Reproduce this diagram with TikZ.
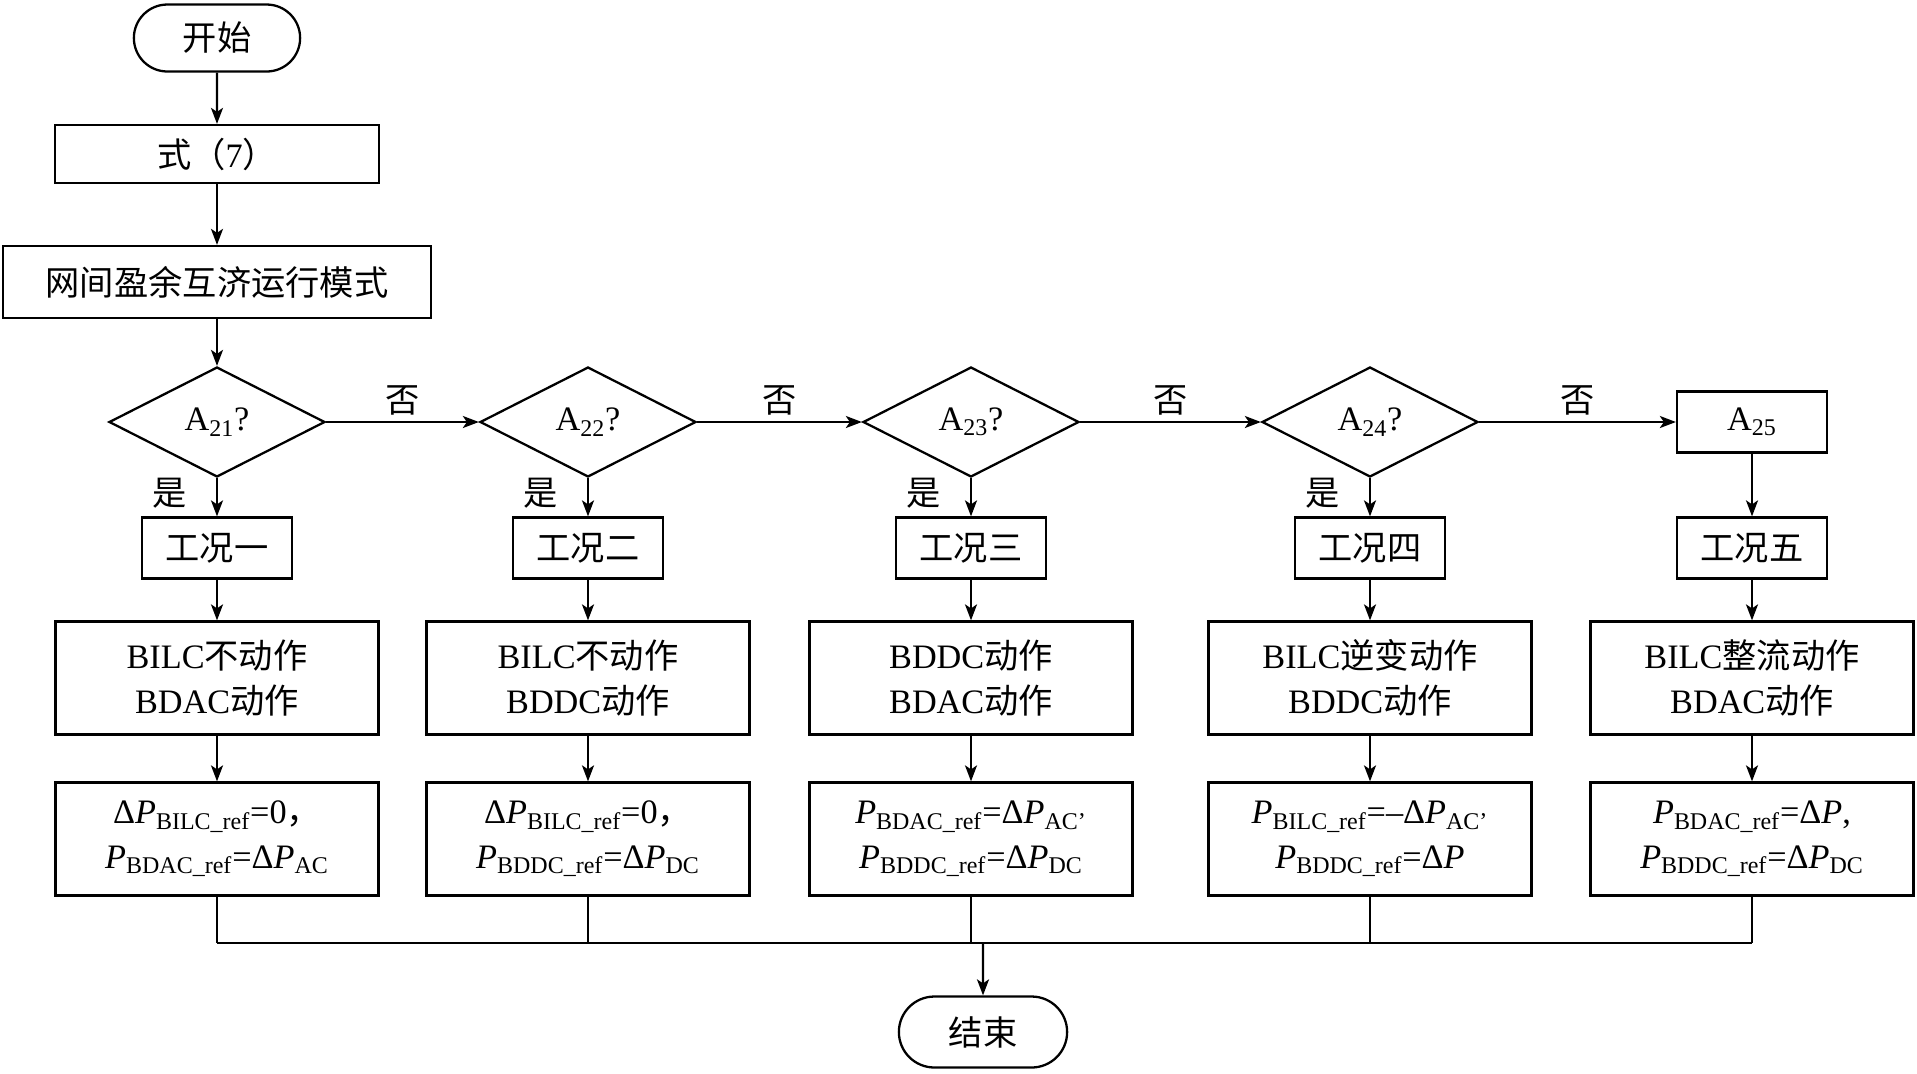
\documentclass[tikz,border=0pt]{standalone}
\usepackage{fontspec}
\setmainfont{Liberation Serif}
\newfontfamily\cjk{Noto Sans CJK SC}
\usetikzlibrary{arrows.meta,shapes.geometric,shapes.misc}
\newcommand{\zh}[1]{{\cjk #1}}
\newcommand{\lo}[1]{\textsubscript{#1}}
\newcommand{\pp}{\textit{P}}
\tikzset{
  every picture/.style={line width=1.3pt},
  box/.style={draw,rectangle,align=center,inner sep=2pt},
  small/.style={box,minimum width=3cm,minimum height=1.22cm},
  wide/.style={box,minimum width=6.46cm,minimum height=2.26cm},
  decide/.style={draw,diamond,inner sep=0pt,minimum width=4.32cm,minimum height=2.2cm},
  term/.style={draw,rounded rectangle,minimum width=3.56cm,minimum height=1.34cm},
  arr/.style={-{Stealth[length=0.32cm,width=0.24cm,inset=0.08cm]}},
}

\begin{document}
\begin{tikzpicture}[x=0.02cm,y=-0.02cm,every node/.style={font=\fontsize{19.5}{25.5}\selectfont}]
  \useasboundingbox (0,0) rectangle (1917,1073);
  \node[term] (start) at (217,38) {\zh{开始}};
  \node[box,minimum width=6.48cm,minimum height=1.16cm] (eq7) at (217,154) {\zh{式（}7\zh{）}};
  \node[box,minimum width=8.56cm,minimum height=1.44cm] (mode) at (217,282) {\zh{网间盈余互济运行模式}};
  \node[decide] (a21) at (217,422) {A\lo{21}?};
  \node[decide] (a22) at (588,422) {A\lo{22}?};
  \node[decide] (a23) at (971,422) {A\lo{23}?};
  \node[decide] (a24) at (1370,422) {A\lo{24}?};
  \node[small] (a25) at (1752,422) {A\lo{25}};
  \foreach \i/\x/\t in {1/217/一,2/588/二,3/971/三,4/1370/四,5/1752/五}
    \node[small] (case\i) at (\x,548) {\zh{工况\t}};
  \node[wide] (act1) at (217,678) {BILC\zh{不动作}\\BDAC\zh{动作}};
  \node[wide] (act2) at (588,678) {BILC\zh{不动作}\\BDDC\zh{动作}};
  \node[wide] (act3) at (971,678) {BDDC\zh{动作}\\BDAC\zh{动作}};
  \node[wide] (act4) at (1370,678) {BILC\zh{逆变动作}\\BDDC\zh{动作}};
  \node[wide] (act5) at (1752,678) {BILC\zh{整流动作}\\BDAC\zh{动作}};
  \node[wide] (ref1) at (217,839) {Δ\pp\lo{BILC\_ref}=0\zh{，}\\\pp\lo{BDAC\_ref}=Δ\pp\lo{AC}};
  \node[wide] (ref2) at (588,839) {Δ\pp\lo{BILC\_ref}=0\zh{，}\\\pp\lo{BDDC\_ref}=Δ\pp\lo{DC}};
  \node[wide] (ref3) at (971,839) {\pp\lo{BDAC\_ref}=Δ\pp\lo{AC’}\\\pp\lo{BDDC\_ref}=Δ\pp\lo{DC}};
  \node[wide] (ref4) at (1370,839) {\pp\lo{BILC\_ref}=–Δ\pp\lo{AC’}\\\pp\lo{BDDC\_ref}=Δ\pp};
  \node[wide] (ref5) at (1752,839) {\pp\lo{BDAC\_ref}=Δ\pp,\\\pp\lo{BDDC\_ref}=Δ\pp\lo{DC}};
  \node[term,minimum width=3.6cm,minimum height=1.42cm] (stop) at (983,1032) {\zh{结束}};
  \coordinate (join) at (983,943);

  \draw[arr] (start) -- (eq7);
  \draw[arr] (eq7) -- (mode);
  \draw[arr] (mode) -- (a21);
  \draw[arr] (a21) -- node[above]{\zh{否}} (a22);
  \draw[arr] (a22) -- node[above]{\zh{否}} (a23);
  \draw[arr] (a23) -- node[above]{\zh{否}} (a24);
  \draw[arr] (a24) -- node[above]{\zh{否}} (a25);
  \foreach \i in {1,...,4}
    \draw[arr] (a2\i) -- node[pos=0.4,left=13pt]{\zh{是}} (case\i);
  \draw[arr] (a25) -- (case5);
  \foreach \i in {1,...,5}{
    \draw[arr] (case\i) -- (act\i);
    \draw[arr] (act\i) -- (ref\i);
    \draw (ref\i.south) -- (ref\i.south |- join);
  }
  \draw (ref1.south |- join) -- (ref5.south |- join);
  \draw[arr] (join) -- (stop);
\end{tikzpicture}
\end{document}
